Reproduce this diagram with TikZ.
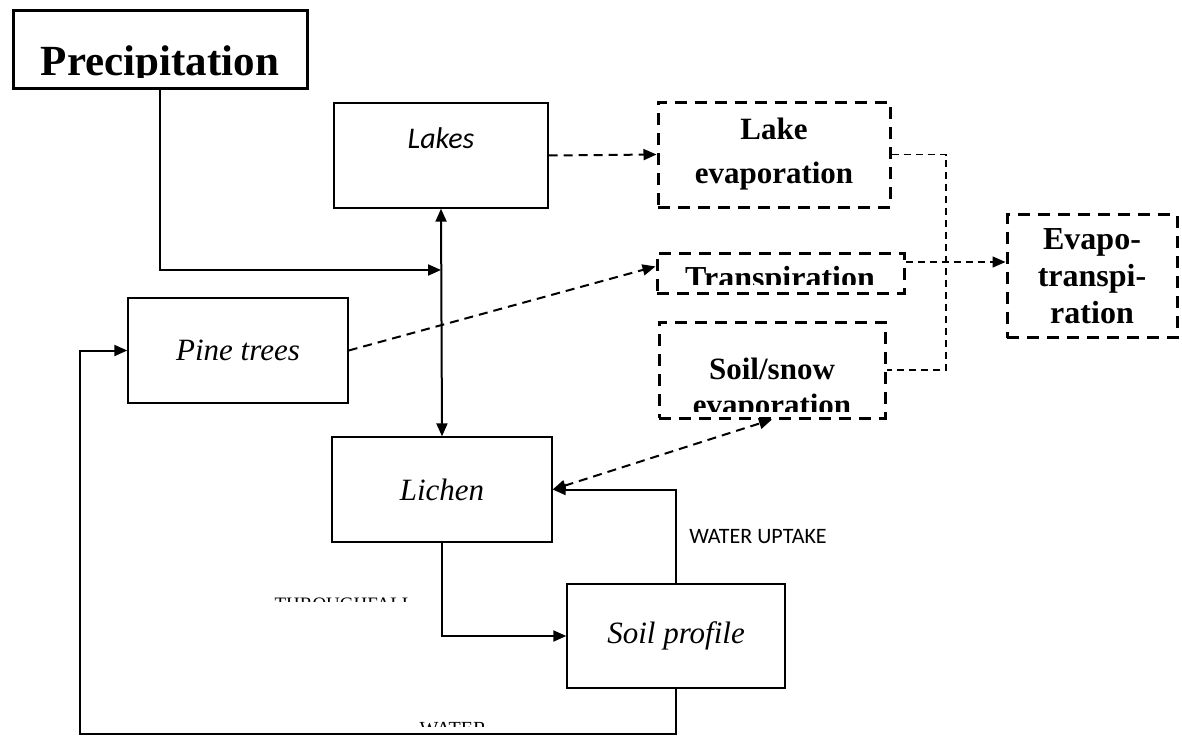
\documentclass[tikz,border=0pt]{standalone}
\usepackage{fontspec}
\setmainfont{Liberation Serif}
\newfontfamily\calibri{Carlito}
\usetikzlibrary{arrows.meta}

\begin{document}
\begin{tikzpicture}[x=1pt,y=-1pt,
  >={Triangle[length=13pt,width=11pt]},
  box/.style={draw,line width=1.4pt,inner sep=0pt},
  dbox/.style={draw,line width=3pt,dash pattern=on 12pt off 8pt,inner sep=0pt,
    align=center,font=\fontsize{31}{44}\selectfont\bfseries},
  flow/.style={line width=2pt,->},
  dflow/.style={flow,dash pattern=on 9pt off 6pt},
  feed/.style={line width=1.5pt,dash pattern=on 7pt off 5pt},
  itlabel/.style={font=\fontsize{31}{36}\selectfont\itshape}]
\useasboundingbox (0,0) rectangle (1182,736);

% boxes
\node[box,line width=3pt,minimum width=294pt,minimum height=78pt] (precip) at (160,49) {};
\node[box,minimum width=214pt,minimum height=105pt,font=\fontsize{30}{34}\calibri\itshape,align=center] (lakes) at (441,155.5) {Lakes\\~};
\node[box,itlabel,minimum width=220pt,minimum height=105pt] (pine) at (238,350.5) {Pine trees};
\node[box,itlabel,minimum width=220pt,minimum height=105pt] (lichen) at (442,489.5) {Lichen};
\node[box,itlabel,minimum width=218pt,minimum height=104pt] (soilprof) at (676,636) {Soil profile};

\node[dbox,minimum width=232pt,minimum height=105pt] (lakeevap) at (774,154.5) {Lake\\evaporation};
\node[dbox,minimum width=247pt,minimum height=40pt] (transp) at (780.5,273) {};
\node[dbox,minimum width=226pt,minimum height=96pt] (soilsnow) at (772,370) {};
\node[dbox,minimum width=170pt,minimum height=123pt,font=\fontsize{32}{37}\selectfont\bfseries] (evapo) at (1092,276) {Evapo-\\transpi-\\ration};

% texts cut off by their boxes
\begin{scope}
\clip (13,10) rectangle (307,77);
\node[font=\fontsize{43}{50}\selectfont\bfseries,anchor=base] (preciptext) at (160,75) {Precipitation};
\end{scope}
\begin{scope}
\clip (660,255) rectangle (902,284);
\node[font=\fontsize{32}{38}\selectfont\bfseries,anchor=base] (transptext) at (780,288) {Transpiration};
\end{scope}
\begin{scope}
\clip (661,324) rectangle (883,411);
\node[font=\fontsize{31}{38}\selectfont\bfseries,anchor=base] (soiltext) at (772,379) {Soil/snow};
\node[font=\fontsize{31}{38}\selectfont\bfseries,anchor=base] (evaptext) at (772,415) {evaporation};
\end{scope}
\begin{scope}
\clip (270,596) rectangle (420,601);
\node[font=\fontsize{19}{23}\selectfont,anchor=base] (through) at (344,610) {THROUGHFALL};
\end{scope}
\begin{scope}
\clip (410,721) rectangle (495,726);
\node[font=\fontsize{20}{24}\selectfont,anchor=base] (water) at (453,735) {WATER};
\end{scope}

\node[font=\fontsize{22}{26}\calibri] (uptake) at (758,537) {WATER UPTAKE};

% connectors
\coordinate (join) at (441,270);
\coordinate (bus) at (946,262);
\coordinate (lowL) at (80,734);

\draw[flow] (precip.south) |- (join);
\draw[flow,<->] (lakes.south) -- (lichen.north);
\draw[dflow] (lakes.east) -- (lakeevap.west);
\draw[dflow] (pine.east) -- (transp.177);
\draw[dflow,<->] (lichen.east) -- (soilsnow.south);
\draw[flow] (soilprof.north) |- (lichen.east);
\draw[flow] (lichen.south) |- (soilprof.west);
\draw[flow] (soilprof.south) -- (soilprof.south |- lowL) -- (lowL) |- (pine.west);

\draw[feed] (lakeevap.east) -| (bus) |- (soilsnow.east);
\draw[feed,->] (transp.east |- bus) -- (evapo.west |- bus);
\end{tikzpicture}
\end{document}
